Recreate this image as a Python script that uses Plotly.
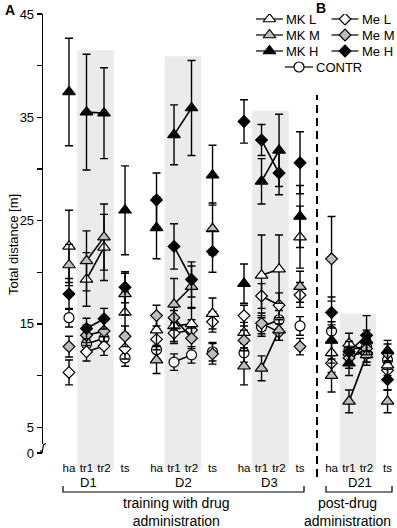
import plotly.graph_objects as go

# ---------------- data ----------------
phases = ["ha", "tr1", "tr2", "ts"]
days = ["D1", "D2", "D3", "D21"]
day_offset = [0, 5, 10, 15]
phase_pos = [0, 1, 2, 3.2]

# values in order D1(ha,tr1,tr2,ts), D2(...), D3(...), D21(...)
mk_l = [22.5, 19.3, 22.4, 16.1, 14.4, 14.8, 15.0, 16.0, 14.15, 19.7, 20.3, 23.4, 12.2, 13.1, 12.3, 11.0]
mk_l_err = [3.5, 2.6, 3.2, 2.0, 1.5, 1.5, 1.5, 1.5, 1.0, 3.9, 3.3, 3.0, 1.0, 1.0, 1.0, 1.0]

mk_m = [20.7, 21.1, 23.4, 17.9, 11.5, 16.9, 18.6, 24.2, 10.9, 10.7, 14.4, 18.6, 10.0, 7.5, 12.0, 7.5]
mk_m_err = [2.0, 2.9, 3.2, 2.0, 1.3, 2.5, 2.0, 2.5, 1.8, 1.2, 1.0, 1.5, 1.6, 1.1, 1.0, 1.1]

mk_h = [37.45, 35.5, 35.4, 26.0, 24.3, 33.3, 35.9, 29.4, 18.9, 28.8, 31.8, 25.4, 13.4, 11.2, 13.4, 12.4]
mk_h_err = [5.2, 5.6, 4.4, 4.3, 3.0, 2.9, 4.6, 2.9, 1.9, 2.2, 3.5, 3.0, 1.5, 1.2, 1.0, 1.0]

me_l = [10.3, 12.3, 12.85, 12.6, 13.5, 14.1, 14.4, 15.2, 15.8, 17.7, 16.8, 17.8, 11.2, 12.0, 12.2, 10.5]
me_l_err = [1.2, 0.9, 0.9, 1.0, 1.0, 1.0, 1.0, 1.0, 1.0, 1.2, 1.2, 1.2, 0.9, 0.9, 0.9, 0.9]

me_m = [12.8, 13.9, 14.3, 13.8, 15.8, 15.6, 13.6, 12.1, 13.4, 15.05, 14.2, 12.8, 21.3, 11.7, 12.6, 12.15]
me_m_err = [1.0, 1.0, 1.0, 1.0, 1.0, 1.0, 1.0, 1.0, 1.0, 1.0, 0.8, 0.8, 4.1, 1.0, 0.9, 0.9]

me_h = [17.9, 14.55, 15.5, 18.55, 27.0, 22.5, 19.3, 22.0, 34.6, 32.8, 29.6, 30.6, 16.1, 12.3, 13.9, 9.6]
me_h_err = [1.5, 1.0, 1.0, 1.5, 2.6, 2.2, 1.7, 2.0, 2.1, 1.5, 2.1, 3.0, 1.5, 1.0, 1.9, 1.0]

contr = [15.6, 13.05, 13.6, 11.7, 12.5, 11.3, 12.0, 12.3, 12.2, 14.7, 15.4, 14.8, 14.3, 12.5, 12.8, 11.5]
contr_err = [0.9, 0.9, 0.9, 0.8, 0.9, 0.8, 0.8, 0.9, 0.9, 0.9, 0.9, 0.9, 0.9, 0.8, 0.8, 0.8]

band_tops = [41.5, 40.9, 35.6, 16.0]

y_tick_vals = [2.5, 5, 10, 15, 20, 25, 30, 35, 40, 45]
y_tick_text = ["0", "5", "", "15", "", "25", "", "35", "", "45"]

# ---------------- styling ----------------
GRAY = "#bdbdbd"
BAND = "#ebebeb"
FONT = "Liberation Sans, Arial, sans-serif"

W, H = 397, 528
ML, MR, MT, MB = 43, 0, 14, 75
PW, PH = W - ML - MR, H - MT - MB
XR = [-1.486, 18.74]
YR = [2.5, 45]


def xd2p(x):
    return (x - XR[0]) / (XR[1] - XR[0])


def yd2p(y):
    return (y - YR[0]) / (YR[1] - YR[0])


def pxx(px):
    return (px - ML) / PW


def pxy(py):
    return (MT + PH - py) / PH


xs = [d + p for d in day_offset for p in phase_pos]

series = [
    ("CONTR", contr, contr_err, "circle", "white", 10),
    ("Me L", me_l, me_l_err, "diamond", "white", 9),
    ("MK L", mk_l, mk_l_err, "triangle-up", "white", 11),
    ("Me M", me_m, me_m_err, "diamond", GRAY, 9),
    ("MK M", mk_m, mk_m_err, "triangle-up", GRAY, 11),
    ("Me H", me_h, me_h_err, "diamond", "black", 9),
    ("MK H", mk_h, mk_h_err, "triangle-up", "black", 11),
]

fig = go.Figure()

# connecting lines tr1 -> tr2
for name, vals, err, sym, fill, size in series:
    lx, ly = [], []
    for i in range(len(days)):
        lx += [xs[4 * i + 1], xs[4 * i + 2], None]
        ly += [vals[4 * i + 1], vals[4 * i + 2], None]
    fig.add_trace(go.Scatter(x=lx, y=ly, mode="lines",
                             line=dict(color="black", width=1.6),
                             showlegend=False, hoverinfo="skip"))

# markers with error bars
for name, vals, err, sym, fill, size in series:
    fig.add_trace(go.Scatter(
        x=xs, y=vals, mode="markers", name=name,
        marker=dict(symbol=sym, size=size, color=fill,
                    line=dict(color="black", width=1.2)),
        error_y=dict(type="data", array=err, visible=True,
                     color="black", thickness=1.4, width=4),
        showlegend=False))

# custom legend (pixel overlay axes)
leg_rows = {"MK L": (269.5, 19), "MK M": (269.5, 35), "MK H": (269.5, 51),
            "Me L": (345, 19), "Me M": (345, 35), "Me H": (345, 51),
            "CONTR": (299, 67)}
annotations = []
for name, vals, err, sym, fill, size in series:
    cx, cy = leg_rows[name]
    half = 13.5 if name != "CONTR" else 14
    fig.add_trace(go.Scatter(
        x=[cx - half, cx + half], y=[cy, cy], mode="lines",
        line=dict(color="black", width=1.2), xaxis="x2", yaxis="y2",
        showlegend=False, hoverinfo="skip"))
    fig.add_trace(go.Scatter(
        x=[cx], y=[cy], mode="markers",
        marker=dict(symbol=sym, size=size, color=fill,
                    line=dict(color="black", width=1.2)),
        xaxis="x2", yaxis="y2", showlegend=False, hoverinfo="skip"))
    annotations.append(dict(x=cx + half + 1, y=cy, xref="x2", yref="y2",
                            text=name, showarrow=False, xanchor="left",
                            yanchor="middle",
                            font=dict(size=13, color="black", family=FONT)))

shapes = []
# grey training bands
for d, top in zip(day_offset, band_tops):
    shapes.append(dict(type="rect", xref="paper", yref="paper",
                       x0=xd2p(d + 0.47), x1=xd2p(d + 2.55),
                       y0=pxy(470), y1=yd2p(top),
                       fillcolor=BAND, line=dict(width=0), layer="below"))
# dashed separator
shapes.append(dict(type="line", xref="paper", yref="paper",
                   x0=xd2p(14.17), x1=xd2p(14.17), y0=pxy(477), y1=pxy(95),
                   line=dict(color="black", width=2, dash="8px,5px")))
# brackets
for (a, b) in [(63, 304), (326, 392)]:
    shapes.append(dict(type="path", xref="paper", yref="paper",
                       path="M {},{} L {},{} L {},{} L {},{}".format(
                           pxx(a), pxy(486), pxx(a), pxy(492),
                           pxx(b), pxy(492), pxx(b), pxy(486)),
                       line=dict(color="black", width=1.2)))
# axis break
shapes.append(dict(type="rect", xref="paper", yref="paper",
                   x0=pxx(40), x1=pxx(46), y0=pxy(450), y1=pxy(444),
                   fillcolor="white", line=dict(width=0)))
shapes.append(dict(type="path", xref="paper", yref="paper",
                   path="M {},{} C {},{} {},{} {},{}".format(
                       pxx(40), pxy(451), pxx(45), pxy(452),
                       pxx(41), pxy(443), pxx(46), pxy(444)),
                   line=dict(color="black", width=1.2)))

# day labels
day_px = [88, 183, 269, 360]
for lab, px in zip(days, day_px):
    annotations.append(dict(x=pxx(px), y=pxy(483), xref="paper", yref="paper",
                            text=lab, showarrow=False, xanchor="center",
                            yanchor="middle",
                            font=dict(size=13, color="black", family=FONT)))
annotations.append(dict(x=pxx(176), y=pxy(512), xref="paper", yref="paper",
                        text="training with drug<br>administration",
                        showarrow=False, xanchor="center", yanchor="middle",
                        font=dict(size=14, color="black", family=FONT)))
annotations.append(dict(x=pxx(347), y=pxy(512), xref="paper", yref="paper",
                        text="post-drug<br>administration",
                        showarrow=False, xanchor="center", yanchor="middle",
                        font=dict(size=14, color="black", family=FONT)))
annotations.append(dict(x=pxx(13), y=pxy(245), xref="paper", yref="paper",
                        text="Total distance [m]", textangle=-90,
                        showarrow=False, xanchor="center", yanchor="middle",
                        font=dict(size=13, color="black", family=FONT)))
annotations.append(dict(x=pxx(3), y=pxy(10), xref="paper", yref="paper",
                        text="<b>A</b>", showarrow=False, xanchor="left",
                        yanchor="middle",
                        font=dict(size=14, color="black", family=FONT)))
annotations.append(dict(x=pxx(314), y=pxy(8), xref="paper", yref="paper",
                        text="<b>B</b>", showarrow=False, xanchor="left",
                        yanchor="middle",
                        font=dict(size=14, color="black", family=FONT)))

fig.update_layout(
    width=W, height=H,
    margin=dict(l=ML, r=MR, t=MT, b=MB, pad=0),
    plot_bgcolor="white", paper_bgcolor="white",
    font=dict(family=FONT, color="black"),
    showlegend=False,
    hovermode=False,
    xaxis=dict(range=XR, showgrid=False, zeroline=False, showline=False,
               tickmode="array", tickvals=xs, ticktext=phases * len(days),
               ticks="", ticklabelstandoff=6,
               tickfont=dict(size=11.5, color="black")),
    yaxis=dict(range=YR, showgrid=False, zeroline=False, showline=True,
               linecolor="black", linewidth=1.3, ticks="outside", ticklen=5,
               tickwidth=1.3, tickcolor="black",
               tickmode="array", tickvals=y_tick_vals, ticktext=y_tick_text,
               tickfont=dict(size=13, color="black")),
    xaxis2=dict(overlaying="x", range=[ML, W - MR], visible=False),
    yaxis2=dict(overlaying="y", range=[MT + PH, MT], visible=False),
    shapes=shapes,
    annotations=annotations,
)

fig.write_html("out.html",
               config={"displayModeBar": False, "staticPlot": True},
               post_script="document.body.style.margin='0';"
                           "document.body.style.overflow='hidden';")
